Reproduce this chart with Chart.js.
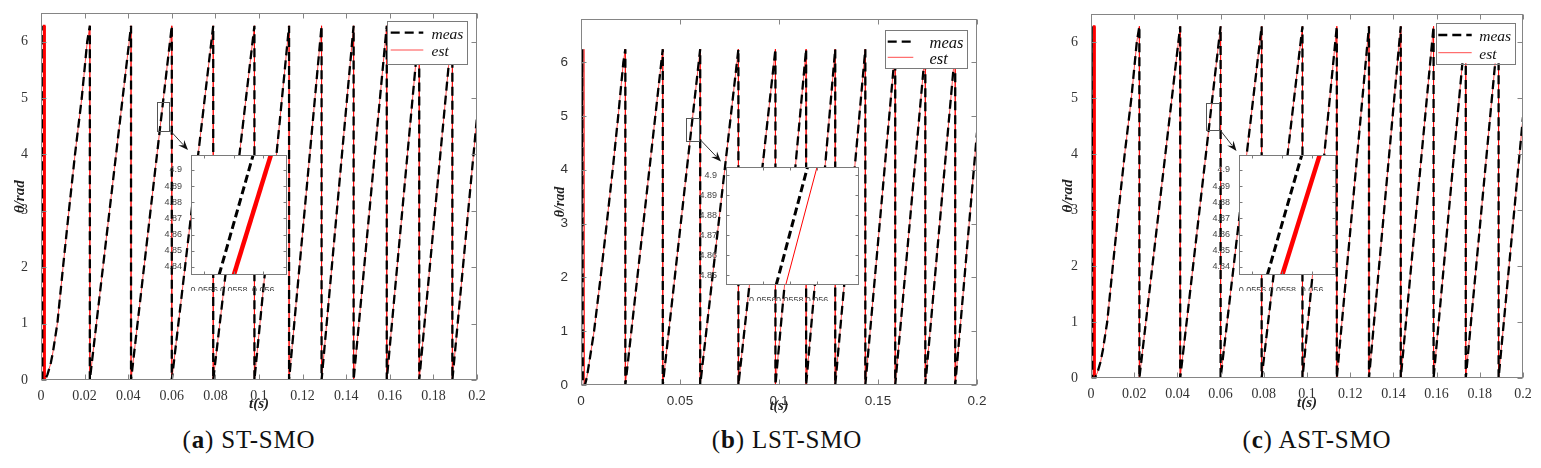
<!DOCTYPE html>
<html>
<head>
<meta charset="utf-8">
<title>Rotor angle: ST-SMO, LST-SMO, AST-SMO</title>
<script src="https://cdn.jsdelivr.net/npm/chart.js@4.4.1/dist/chart.umd.min.js"></script>
<style>
  html, body { margin: 0; padding: 0; background: #fff; }
  #fig { position: relative; width: 1541px; height: 468px; overflow: hidden; background: #fff; }
  #fig canvas { position: absolute; }
  .cap {
    position: absolute; top: 427px; transform: translateX(-50%);
    font-family: 'Liberation Serif', 'Times New Roman', serif;
    font-size: 25px; line-height: 25px; letter-spacing: 0.8px;
    white-space: nowrap; color: #111;
  }
</style>
</head>
<body>
<div id="fig">
  <div class="cap" style="left:249px">(<b>a</b>) ST-SMO</div>
  <div class="cap" style="left:787px">(<b>b</b>) LST-SMO</div>
  <div class="cap" style="left:1317px">(<b>c</b>) AST-SMO</div>
</div>
<script>
// ---- values ----

// tick labels
const xTicksAC = [0, 0.02, 0.04, 0.06, 0.08, 0.1, 0.12, 0.14, 0.16, 0.18, 0.2];
const xTicksB = [0, 0.05, 0.1, 0.15, 0.2];
const yTicks = [0, 1, 2, 3, 4, 5, 6];

// (a) ST-SMO and (c) AST-SMO, start-up part of the angle (s / rad)
const measStartT_AC = [0, 0.0003, 0.0006, 0.0018, 0.0030, 0.0045, 0.0055, 0.0075, 0.0101, 0.0128, 0.0156, 0.0187, 0.0212];
const measStartY_AC = [0, 6.28, 0, 0, 0.1, 0.3, 0.5, 1, 2, 3, 4, 5, 6];
const estStartT_AC = [0, 0.0011, 0.0013, 0.0016, 0.0018, 0.0030, 0.0045, 0.0055, 0.0075, 0.0101, 0.0128, 0.0156, 0.0187, 0.0212];
const estStartY_AC = [0, 0, 6.28, 6.28, 0, 0.1, 0.3, 0.5, 1, 2, 3, 4, 5, 6];
// times where the angle wraps from 2pi back to 0
const wrapT_AC = [0.0224, 0.0413, 0.0600, 0.0790, 0.0979, 0.1138, 0.1287, 0.1434, 0.1586, 0.1735, 0.1887];
const peak_AC = 6.28;
const endY_AC = 4.66;

// (b) LST-SMO
const measStartT_B = [0, 0.0006, 0.0009, 0.0020, 0.0030, 0.0045, 0.0066, 0.0099, 0.0130, 0.0160, 0.0188, 0.0214];
const measStartY_B = [0, 6.24, 0, 0, 0.15, 0.5, 1, 2, 3, 4, 5, 6];
const estStartT_B = [0, 0.0012, 0.0015, 0.0018, 0.0020, 0.0030, 0.0045, 0.0066, 0.0099, 0.0130, 0.0160, 0.0188, 0.0214];
const estStartY_B = [0, 0, 6.24, 0, 0, 0.15, 0.5, 1, 2, 3, 4, 5, 6];
const wrapT_B = [0.0224, 0.0413, 0.0602, 0.0795, 0.0982, 0.1137, 0.1284, 0.1436, 0.1587, 0.1739, 0.1890];
const peak_B = 6.24;
const endY_B = 4.69;

const endT = 0.2;

// zoomed insets
const zoomXTicks = [0.0556, 0.0558, 0.056];
const zoomYTicksAC = [4.84, 4.85, 4.86, 4.87, 4.88, 4.89, 4.9];
const zoomYTicksB = [4.85, 4.86, 4.87, 4.88, 4.89, 4.9];
const zoomMeasT_AC = [0.05570, 0.05593];
const zoomEstT_AC = [0.05580, 0.05605];
const zoomY_AC = [4.835, 4.909];
const zoomMeasT_B = [0.05570, 0.05593];
const zoomEstT_B = [0.05577, 0.05600];
const zoomY_B = [4.845, 4.904];

// ---- helpers ----
const serif = "'Liberation Serif', 'Times New Roman', serif";
const sans = "'Liberation Sans', Arial, sans-serif";
const fig = document.getElementById('fig');

function angleTrace(startT, startY, wraps, peak, endY) {
  const pts = startT.map((t, i) => ({x: t, y: startY[i]}));
  wraps.forEach(t => {
    pts.push({x: t, y: peak});
    pts.push({x: t, y: 0});
  });
  pts.push({x: endT, y: endY});
  return pts;
}

function pairs(ts, ys) {
  return ts.map((t, i) => ({x: t, y: ys[i]}));
}

function makeCanvas(b) {
  const c = document.createElement('canvas');
  c.width = b.w; c.height = b.h;
  c.style.left = b.left + 'px'; c.style.top = b.top + 'px';
  c.style.width = b.w + 'px'; c.style.height = b.h + 'px';
  fig.appendChild(c);
  return c;
}

// frame, inward ticks, zoom box + arrow and legend
const deco = {
  id: 'deco',
  beforeDatasetsDraw(chart, args, o) {
    if (!o.fillArea) return;
    const a = chart.chartArea, ctx = chart.ctx;
    ctx.save();
    ctx.fillStyle = '#fff';
    ctx.fillRect(a.left, a.top, a.right - a.left, a.bottom - a.top);
    ctx.restore();
  },
  afterDatasetsDraw(chart, args, o) {
    const {ctx, chartArea: a, scales} = chart;
    const L = Math.round(a.left) + 0.5, R = Math.round(a.right) - 0.5;
    const T = Math.round(a.top) + 0.5, B = Math.round(a.bottom) - 0.5;
    ctx.save();
    ctx.strokeStyle = o.frame;
    ctx.lineWidth = 1;
    ctx.strokeRect(L, T, R - L, B - T);
    ctx.beginPath();
    scales.x.ticks.forEach(t => {
      const px = Math.round(scales.x.getPixelForValue(t.value)) + 0.5;
      ctx.moveTo(px, B); ctx.lineTo(px, B - o.tick);
      ctx.moveTo(px, T); ctx.lineTo(px, T + o.tick);
    });
    scales.y.ticks.forEach(t => {
      const py = Math.round(scales.y.getPixelForValue(t.value)) + 0.5;
      ctx.moveTo(L, py); ctx.lineTo(L + o.tick, py);
      ctx.moveTo(R, py); ctx.lineTo(R - o.tick, py);
    });
    ctx.stroke();

    if (o.box) {
      const x0 = scales.x.getPixelForValue(o.box[0]), x1 = scales.x.getPixelForValue(o.box[1]);
      const y0 = scales.y.getPixelForValue(o.box[3]), y1 = scales.y.getPixelForValue(o.box[2]);
      ctx.strokeStyle = '#555';
      ctx.strokeRect(Math.round(x0) + 0.5, Math.round(y0) + 0.5, Math.round(x1 - x0), Math.round(y1 - y0));
      const sx = x1 + 1, sy = y1 - 1, ex = o.arrowTo[0], ey = o.arrowTo[1];
      const ang = Math.atan2(ey - sy, ex - sx), hl = 10, hw = 4;
      const c = Math.cos(ang), s = Math.sin(ang);
      ctx.strokeStyle = '#333';
      ctx.beginPath();
      ctx.moveTo(sx, sy);
      ctx.lineTo(ex - hl * 0.7 * c, ey - hl * 0.7 * s);
      ctx.stroke();
      ctx.fillStyle = '#111';
      ctx.beginPath();
      ctx.moveTo(ex, ey);
      ctx.lineTo(ex - hl * c + hw * s, ey - hl * s - hw * c);
      ctx.lineTo(ex - hl * 0.65 * c, ey - hl * 0.65 * s);
      ctx.lineTo(ex - hl * c - hw * s, ey - hl * s + hw * c);
      ctx.closePath();
      ctx.fill();
    }

    if (o.legend) {
      const g = o.legend;
      ctx.fillStyle = '#fff';
      ctx.fillRect(g.x, g.y, g.w, g.h);
      ctx.strokeStyle = '#7a7a7a';
      ctx.lineWidth = 1;
      ctx.strokeRect(Math.round(g.x) + 0.5, Math.round(g.y) + 0.5, Math.round(g.w), Math.round(g.h));
      chart.data.datasets.forEach((ds, i) => {
        const yy = i === 0 ? g.r1 : g.r2;
        ctx.strokeStyle = ds.borderColor;
        ctx.lineWidth = ds.borderWidth;
        ctx.setLineDash(ds.borderDash || []);
        ctx.beginPath();
        ctx.moveTo(g.l0, yy); ctx.lineTo(g.l1, yy);
        ctx.stroke();
        ctx.setLineDash([]);
        ctx.fillStyle = '#111';
        ctx.font = 'italic ' + g.size + 'px ' + serif;
        ctx.textAlign = 'left';
        ctx.textBaseline = 'middle';
        ctx.fillText(ds.label, g.tx, yy + 2);
      });
    }
    ctx.restore();
  }
};

// ---- panel layout ----
const panels = [
  {
    canvas: {left: 0, top: 0, w: 505, h: 415}, padTop: 12, padRight: 28,
    xTicks: xTicksAC, yMax: 6.5, tickFont: {family: serif, size: 14},
    titleFont: {family: serif, size: 15, style: 'italic', weight: 'bold'}, yTitlePad: 11, xTitlePad: 2,
    meas: angleTrace(measStartT_AC, measStartY_AC, wrapT_AC, peak_AC, endY_AC),
    est: angleTrace(estStartT_AC, estStartY_AC, wrapT_AC, peak_AC, endY_AC),
    spikeEnd: estStartT_AC[4], spikeWidth: 2,
    box: [0.0532, 0.0587, 4.41, 4.93], arrowTo: [188, 150],
    legend: {x: 387.3, y: 21, w: 80.4, h: 43.3, l0: 390.7, l1: 423.3, tx: 431.5, r1: 32.7, r2: 50, size: 15.5},
    inset: {
      canvas: {left: 157, top: 149, w: 144, h: 142},
      xMin: 0.05551, xMax: 0.05616, yMin: zoomY_AC[0], yMax: zoomY_AC[1], yTicks: zoomYTicksAC,
      meas: pairs(zoomMeasT_AC, zoomY_AC), est: pairs(zoomEstT_AC, zoomY_AC), estWidth: 4.5
    }
  },
  {
    canvas: {left: 540, top: 0, w: 460, h: 420}, padTop: 19, padRight: 23,
    xTicks: xTicksB, yMax: 6.8, tickFont: {family: sans, size: 13.5},
    titleFont: {family: serif, size: 14, style: 'italic', weight: 'bold'}, yTitlePad: 12, xTitlePad: 5.6,
    meas: angleTrace(measStartT_B, measStartY_B, wrapT_B, peak_B, endY_B),
    est: angleTrace(estStartT_B, estStartY_B, wrapT_B, peak_B, endY_B),
    spikeEnd: 0, spikeWidth: 1,
    box: [0.0530, 0.0597, 4.54, 4.96], arrowTo: [181, 161.5],
    legend: {x: 345, y: 30, w: 81.7, h: 38.3, l0: 347.7, l1: 373.3, tx: 389.5, r1: 41.7, r2: 57.3, size: 16.5},
    inset: {
      canvas: {left: 692, top: 161, w: 181, h: 140},
      xMin: 0.05533, xMax: 0.05631, yMin: zoomY_B[0], yMax: zoomY_B[1], yTicks: zoomYTicksB,
      meas: pairs(zoomMeasT_B, zoomY_B), est: pairs(zoomEstT_B, zoomY_B), estWidth: 1
    }
  },
  {
    canvas: {left: 1050, top: 0, w: 491, h: 413}, padTop: 14, padRight: 18,
    xTicks: xTicksAC, yMax: 6.5, tickFont: {family: serif, size: 14},
    titleFont: {family: serif, size: 15, style: 'italic', weight: 'bold'}, yTitlePad: 9.3, xTitlePad: 1,
    meas: angleTrace(measStartT_AC, measStartY_AC, wrapT_AC, peak_AC, endY_AC),
    est: angleTrace(estStartT_AC, estStartY_AC, wrapT_AC, peak_AC, endY_AC),
    spikeEnd: estStartT_AC[4], spikeWidth: 2,
    box: [0.0531, 0.0589, 4.43, 4.91], arrowTo: [186.5, 151],
    legend: {x: 385.7, y: 22.7, w: 79.3, h: 40.6, l0: 388.3, l1: 421.7, tx: 429.3, r1: 35, r2: 52.7, size: 15.5},
    inset: {
      canvas: {left: 1205, top: 149, w: 145, h: 142},
      xMin: 0.05551, xMax: 0.05616, yMin: zoomY_AC[0], yMax: zoomY_AC[1], yTicks: zoomYTicksAC,
      meas: pairs(zoomMeasT_AC, zoomY_AC), est: pairs(zoomEstT_AC, zoomY_AC), estWidth: 4.5
    }
  }
];

const fixedTicks = list => s => { s.ticks = list.map(v => ({value: v})); };

panels.forEach(p => {
  new Chart(makeCanvas(p.canvas), {
    type: 'line',
    data: {
      datasets: [
        {label: 'meas', data: p.meas, borderColor: '#000', borderWidth: 2.3, borderDash: [9, 5], pointRadius: 0, tension: 0},
        {label: 'est', data: p.est, borderColor: 'rgba(255,0,0,0.7)', borderWidth: 1, pointRadius: 0, tension: 0,
          segment: {
            borderWidth: c => (c.p1.parsed.x <= p.spikeEnd ? p.spikeWidth : 1),
            borderColor: c => (c.p1.parsed.x <= p.spikeEnd ? '#ff0000' : 'rgba(255,0,0,0.7)')
          }}
      ]
    },
    options: {
      responsive: false,
      animation: false,
      layout: {padding: {top: p.padTop, right: p.padRight, left: 0, bottom: 0}},
      plugins: {
        legend: {display: false},
        tooltip: {enabled: false},
        deco: {frame: '#858585', tick: 5, box: p.box, arrowTo: p.arrowTo, legend: p.legend}
      },
      scales: {
        x: {
          type: 'linear', min: 0, max: 0.2,
          grid: {display: false}, border: {display: false},
          afterBuildTicks: fixedTicks(p.xTicks),
          afterFit: s => { s.height = 35; },
          ticks: {autoSkip: false, maxRotation: 0, minRotation: 0, padding: 0, color: '#333', font: p.tickFont, callback: v => String(v)},
          title: {display: true, text: 't(s)', color: '#222', padding: {top: 0, bottom: p.xTitlePad}, font: p.titleFont}
        },
        y: {
          type: 'linear', min: 0, max: p.yMax,
          grid: {display: false}, border: {display: false},
          afterBuildTicks: fixedTicks(yTicks),
          afterFit: s => { s.width = 41; },
          ticks: {autoSkip: false, padding: 5, color: '#333', font: p.tickFont, callback: v => String(v)},
          title: {display: true, text: 'θ/rad', color: '#222', padding: {top: p.yTitlePad, bottom: 0}, font: p.titleFont}
        }
      }
    },
    plugins: [deco]
  });
});

// insets on top of the main plots
panels.forEach(p => {
  const q = p.inset;
  new Chart(makeCanvas(q.canvas), {
    type: 'line',
    data: {
      datasets: [
        {label: 'meas', data: q.meas, borderColor: '#000', borderWidth: 3, borderDash: [8, 4], pointRadius: 0},
        {label: 'est', data: q.est, borderColor: '#ff0000', borderWidth: q.estWidth, pointRadius: 0}
      ]
    },
    options: {
      responsive: false,
      animation: false,
      layout: {padding: {top: 4, right: 14, left: 0, bottom: 0}},
      plugins: {
        legend: {display: false},
        tooltip: {enabled: false},
        deco: {frame: '#7a7a7a', tick: 3, fillArea: true}
      },
      scales: {
        x: {
          type: 'linear', min: q.xMin, max: q.xMax,
          grid: {display: false}, border: {display: false},
          afterBuildTicks: fixedTicks(zoomXTicks),
          afterFit: s => { s.height = 16; },
          ticks: {autoSkip: false, maxRotation: 0, minRotation: 0, padding: 2, color: '#444', font: {family: sans, size: 9}, callback: v => String(v)}
        },
        y: {
          type: 'linear', min: q.yMin, max: q.yMax,
          grid: {display: false}, border: {display: false},
          afterBuildTicks: fixedTicks(q.yTicks),
          afterFit: s => { s.width = 34; },
          ticks: {autoSkip: false, padding: 1, color: '#444', font: {family: sans, size: 9}, callback: v => String(v)}
        }
      }
    },
    plugins: [deco]
  });
});
</script>
</body>
</html>
